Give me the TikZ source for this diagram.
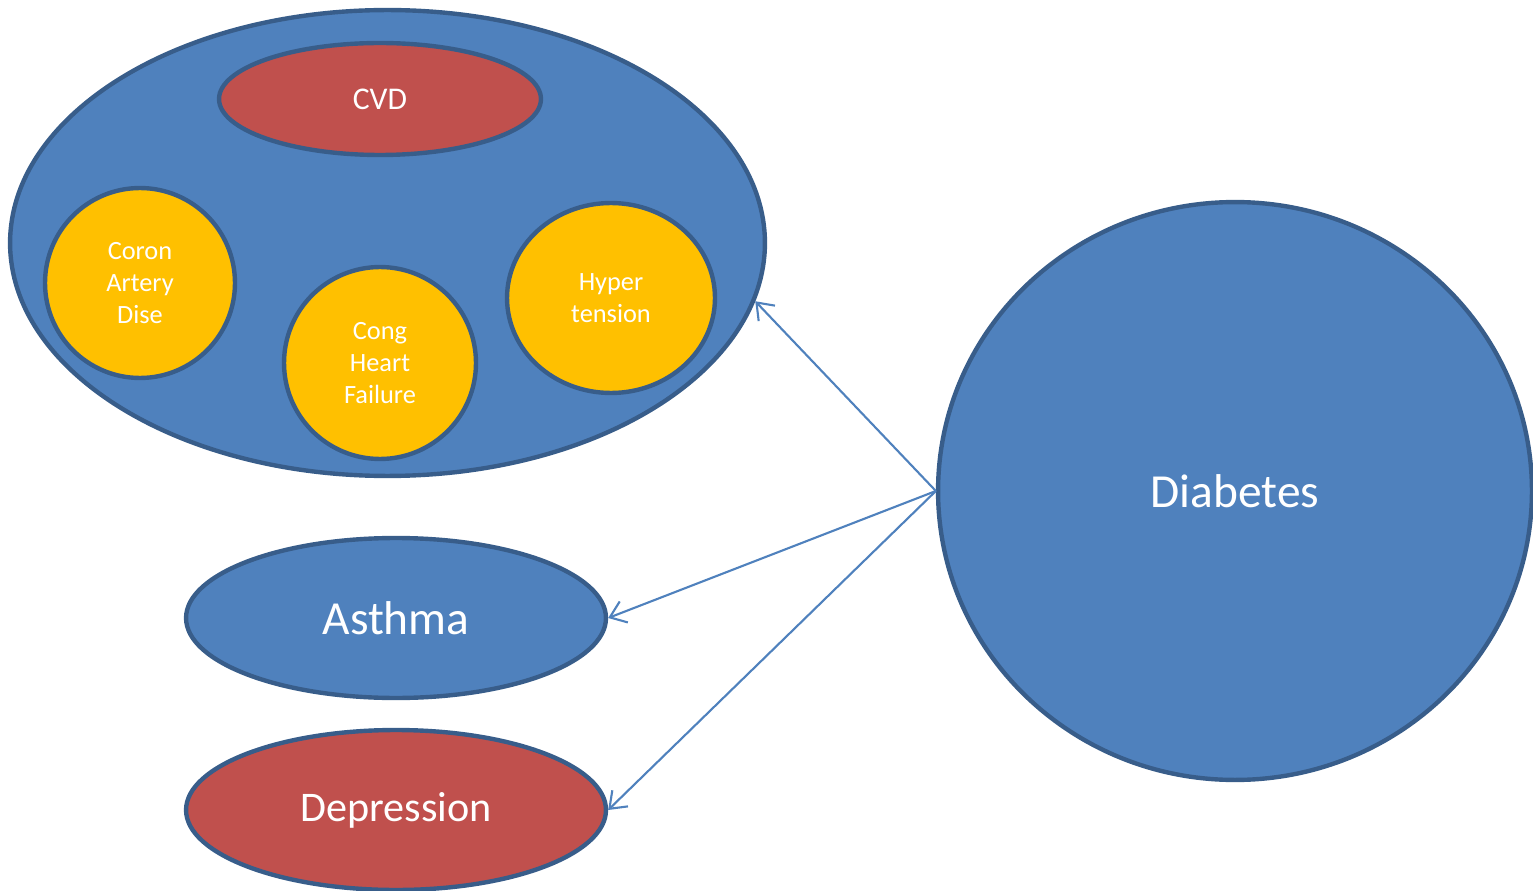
\documentclass[tikz,border=0pt]{standalone}
\usepackage{fontspec}
\setmainfont{Carlito}
\usetikzlibrary{shapes.geometric,arrows.meta}

\definecolor{fillblue}{HTML}{4F81BD}
\definecolor{edgeblue}{HTML}{385D8A}
\definecolor{fillred}{HTML}{C0504D}
\definecolor{fillyellow}{HTML}{FFC000}

\tikzset{
  blob/.style={ellipse,draw=edgeblue,line width=2.5pt,inner sep=0pt,text=white,align=center},
  small/.style={font=\fontsize{15}{18.2}\selectfont},
  big/.style={font=\fontsize{27}{32}\selectfont},
  link/.style={->,draw=fillblue,line width=1.2pt}
}

\begin{document}
\begin{tikzpicture}[x=0.02cm,y=-0.02cm,>={Straight Barb[length=0.3cm,width=0.45cm]}]
          \useasboundingbox (0,0) rectangle (1533,891);

          % group of heart diseases
          \node[blob,fill=fillblue,minimum width=15.1cm,minimum height=9.32cm] (cvdgroup) at (387.5,243) {};
          \node[blob,fill=fillred,font=\fontsize{18}{22}\selectfont,minimum width=6.44cm,minimum height=2.24cm] (cvd) at (380,99) {CVD};
          \node[blob,fill=fillyellow,small,minimum width=3.8cm,minimum height=3.8cm] (coron) at (140,283) {Coron\\Artery\\Dise};
          \node[blob,fill=fillyellow,small,minimum width=3.84cm,minimum height=3.84cm] (cong) at (380,363) {Cong\\Heart\\Failure};
          \node[blob,fill=fillyellow,small,minimum width=4.16cm,minimum height=3.8cm] (hyper) at (611,298) {Hyper\\tension};

          % other conditions
          \node[blob,fill=fillblue,big,minimum width=8.4cm,minimum height=3.2cm] (asthma) at (396,618) {Asthma};
          \node[blob,fill=fillred,font=\fontsize{24}{28}\selectfont,minimum width=8.4cm,minimum height=3.2cm] (depression) at (396,810) {Depression};
          \node[blob,fill=fillblue,big,minimum width=11.88cm,minimum height=11.56cm] (diabetes) at (1235,491) {Diabetes};

          \draw[link] (diabetes.west) -- (cvdgroup.-9.2);
          \draw[link] (diabetes.west) -- (asthma.east);
          \draw[link] (diabetes.west) -- (depression.east);
        \end{tikzpicture}
\end{document}
